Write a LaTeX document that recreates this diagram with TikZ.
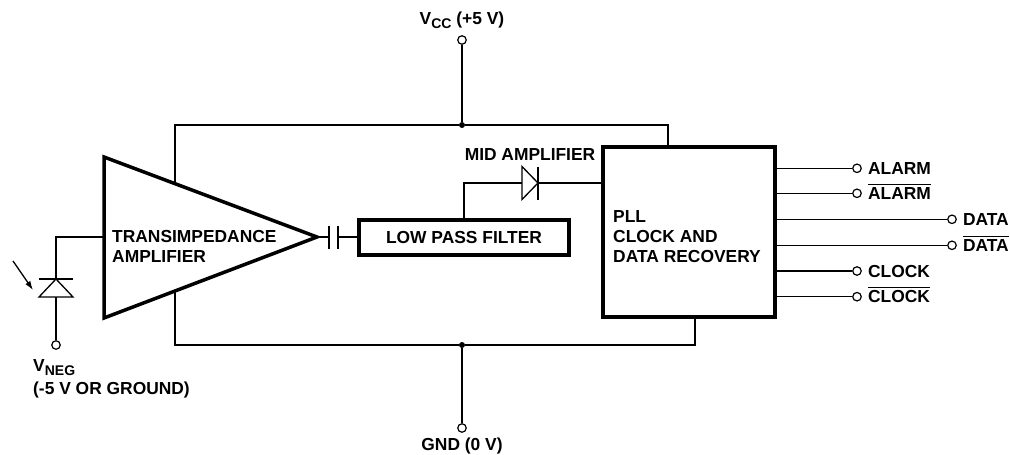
\documentclass[tikz,border=0pt]{standalone}
\usepackage{fontspec}
\setmainfont{Liberation Sans}
\usetikzlibrary{positioning, calc, arrows.meta}

\newcommand{\barred}[1]{$\overline{\mbox{\raisebox{0pt}[14pt]{#1}}}$}
\newcommand{\lowsub}[1]{\raisebox{-4pt}{\fontsize{14}{14}\selectfont #1}}

\tikzset{
  wire/.style={line width=1.3pt},
  blockline/.style={line width=3.5pt, line join=miter},
  pin/.style={circle, draw, line width=1.2pt, fill=white, inner sep=0pt, minimum size=8.5pt},
  dot/.style={circle, fill=black, inner sep=0pt, minimum size=6pt},
  lbl/.style={font=\fontsize{17.4}{20}\selectfont\bfseries, inner sep=0pt},
  pinlbl/.style={lbl, text height=12.4pt, text depth=0pt, anchor=west},
}

\begin{document}
\begin{tikzpicture}[x=1pt, y=-1pt]
    \useasboundingbox (0,0) rectangle (1010,455);

    % transimpedance amplifier
    \coordinate (tia top) at (104,157);
    \coordinate (tia bot) at (104,318);
    \coordinate (tia out) at (317,237);
    \draw[blockline] (tia top) -- (tia out) -- (tia bot) -- cycle;
    \node[lbl, align=left, anchor=west] (tialbl) at (112,246.5) {TRANSIMPEDANCE\\AMPLIFIER};
    \coordinate (tia vcc) at ($(tia top)!0.333!(tia out)$);
    \coordinate (tia gnd) at ($(tia bot)!0.333!(tia out)$);

    % photodiode
    \coordinate (pd top) at (56,237);
    \coordinate (pd k) at (56,279);
    \coordinate (pd a) at (56,297);
    \node[pin] (vneg) at (56,345) {};
    \draw[wire] (pd top -| tia top) -- (pd top) -- (pd k);
    \draw[wire] ([xshift=-17pt]pd k) -- ([xshift=17pt]pd k);
    \draw[wire] ([xshift=-17pt]pd a) -- ([xshift=17pt]pd a) -- (pd k) -- cycle;
    \draw[wire] (pd a) -- (vneg);
    \coordinate (light) at (13,261);
    \coordinate (light end) at (33,290);
    \draw[wire, -{Latex[length=9pt, width=6pt]}] (light) -- (light end);
    \node[lbl, align=left, anchor=north west] (vneglbl) at (33,359) {V\lowsub{NEG}\\[3pt](-5 V OR GROUND)};

    % coupling capacitor and filter
    \node[draw, blockline, lbl, minimum width=210pt, minimum height=35pt] (lpf) at (464,237.5) {LOW PASS FILTER};
    \coordinate (cap l) at (329,237);
    \coordinate (cap r) at (338,237);
    \draw[wire] (tia out) -- (cap l);
    \draw[wire] ([yshift=-11.5pt]cap l) -- ([yshift=11.5pt]cap l);
    \draw[wire] ([yshift=-11.5pt]cap r) -- ([yshift=11.5pt]cap r);
    \draw[wire] (cap r) -- (cap r -| lpf.west);

    % PLL block
    \node[draw, blockline, minimum width=172pt, minimum height=170pt] (pll) at (689,232) {};
    \node[lbl, align=left, anchor=west] (plllbl) at (613,237) {PLL\\CLOCK AND\\DATA RECOVERY};
    \coordinate (pll vcc) at (668,147);
    \coordinate (pll gnd) at (695,317);

    % mid amplifier
    \coordinate (mid a) at (522,183);
    \coordinate (mid k) at (538,183);
    \draw[wire] (lpf.north) |- (mid a);
    \draw[wire] ([yshift=16.5pt]mid a) -- (mid k) -- ([yshift=-16.5pt]mid a) -- cycle;
    \draw[wire] ([yshift=16.5pt]mid k) -- ([yshift=-16.5pt]mid k);
    \draw[wire] (mid k) -- (mid k -| pll.west);
    \node[lbl] (midlbl) at (530,155) {MID AMPLIFIER};

    % supply rails
    \node[dot] (vccdot) at (462,125) {};
    \node[pin] (vcc) at (462,40) {};
    \draw[wire] (tia vcc) |- (vccdot) -| (pll vcc);
    \draw[wire] (vcc) -- (vccdot);
    \node[lbl, above=6pt of vcc] (vcclbl) {V\lowsub{CC} (+5 V)};

    \node[dot] (gnddot) at (462,345) {};
    \node[pin] (gnd) at (462,428) {};
    \draw[wire] (tia gnd) |- (gnddot) -| (pll gnd);
    \draw[wire] (gnddot) -- (gnd);
    \node[lbl, below=5pt of gnd] (gndlbl) {GND (0 V)};

    % outputs
    \foreach \n/\y/\x/\t in {1/168.3/857/ALARM, 2/193.3/857/\barred{ALARM},
                             3/219.3/952/DATA, 4/245.3/952/\barred{DATA},
                             5/271/857/CLOCK, 6/296.7/857/\barred{CLOCK}} {
        \node[pin] (out\n) at (\x,\y) {};
        \draw[wire] (out\n -| pll.east) -- (out\n);
        \node[pinlbl, right=6pt of out\n] (outlbl\n) {\t};
    }
\end{tikzpicture}
\end{document}
